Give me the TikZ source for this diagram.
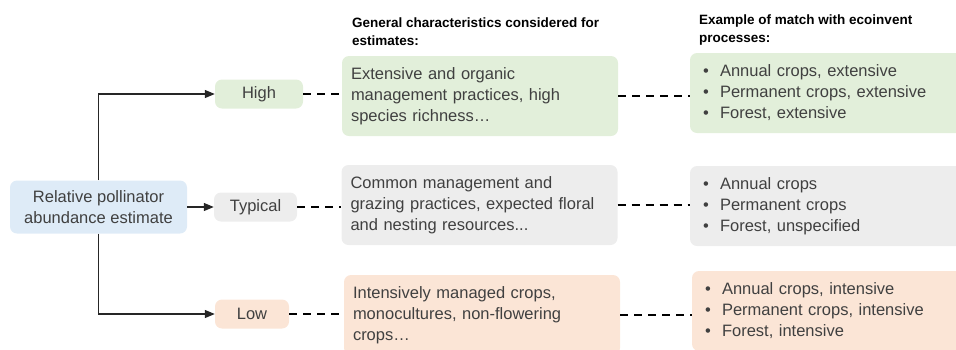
\documentclass[tikz,border=0pt]{standalone}
\usepackage{fontspec}
\setmainfont{Liberation Sans}
\usetikzlibrary{arrows.meta}
\definecolor{rootblue}{HTML}{DEEBF7}
\definecolor{highgreen}{HTML}{E2EFDA}
\definecolor{typgrey}{HTML}{EDEDED}
\definecolor{lowred}{HTML}{FBE5D6}
\definecolor{textgrey}{HTML}{404040}
\tikzset{
  box/.style={rounded corners=7pt, inner sep=0pt, text=textgrey,
    font=\fontsize{16.5}{21}\selectfont},
  level/.style={box, minimum height=29pt},
  charbox/.style={box, minimum width=276pt, minimum height=80pt,
    text width=258pt, align=left},
  matchbox/.style={box, minimum width=276pt, minimum height=80pt,
    text width=250pt, align=left},
  head/.style={anchor=north west, inner sep=0pt, align=left,
    font=\fontsize{13.5}{18}\selectfont\bfseries},
  arr/.style={draw=black!85, line width=1.2pt, -{Triangle[length=10pt,width=8pt]}},
  link/.style={draw=black, line width=2pt, dash pattern=on 8pt off 6pt}
}
\newcommand{\bitem}[1]{\makebox[17pt][l]{\textbullet}#1}

\begin{document}
\begin{tikzpicture}[x=1pt,y=-1pt]
	\useasboundingbox (0,0) rectangle (956,349);
	\clip (0,0) rectangle (956,349);

	\node[box, fill=rootblue, minimum width=177pt, minimum height=53pt, align=center] (root) at (98.5,207)
		{Relative pollinator\\abundance estimate};

	\node[level, fill=highgreen, minimum width=88pt] (high) at (259,94) {High};
	\node[level, fill=typgrey, minimum width=83pt] (typical) at (255.5,207) {Typical};
	\node[level, fill=lowred, minimum width=74pt] (low) at (252,314) {Low};

	\node[head] (charhead) at (352,18) {General characteristics considered for\\estimates:};
	\node[head] (matchhead) at (699,15) {Example of match with ecoinvent\\processes:};

	\node[charbox, fill=highgreen] (charhigh) at (480,96)
		{Extensive and organic\\management practices, high\\species richness\dots};
	\node[charbox, fill=typgrey] (chartyp) at (479.5,205)
		{Common management and\\grazing practices, expected floral\\and nesting resources...};
	\node[charbox, fill=lowred] (charlow) at (482,315)
		{Intensively managed crops,\\monocultures, non-flowering\\crops\dots};

	\node[matchbox, fill=highgreen] (matchhigh) at (828,93)
		{\bitem{Annual crops, extensive}\\\bitem{Permanent crops, extensive}\\\bitem{Forest, extensive}};
	\node[matchbox, fill=typgrey] (matchtyp) at (828,206)
		{\bitem{Annual crops}\\\bitem{Permanent crops}\\\bitem{Forest, unspecified}};
	\node[matchbox, fill=lowred] (matchlow) at (830,311)
		{\bitem{Annual crops, intensive}\\\bitem{Permanent crops, intensive}\\\bitem{Forest, intensive}};

	\draw[arr] (root.north) |- (high.west);
	\draw[arr] (root.east) -- (typical.west);
	\draw[arr] (root.south) |- (low.west);

	\draw[link] (high.east) -- (high.east -| charhigh.west);
	\draw[link] (typical.east) -- (typical.east -| chartyp.west);
	\draw[link] (low.east) -- (low.east -| charlow.west);

	\draw[link] (charhigh.east) -- (charhigh.east -| matchhigh.west);
	\draw[link] (chartyp.east) -- (chartyp.east -| matchtyp.west);
	\draw[link] (charlow.east) -- (charlow.east -| matchlow.west);
\end{tikzpicture}
\end{document}
